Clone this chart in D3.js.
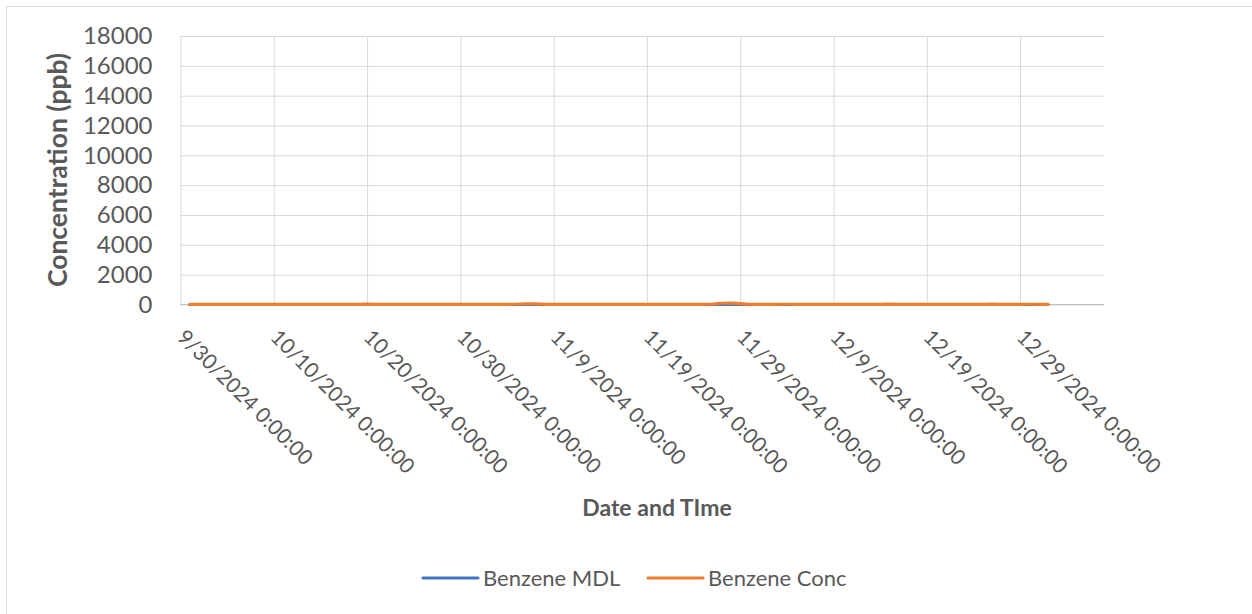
<!DOCTYPE html>
<html>
<head>
<meta charset="utf-8">
<script src="https://cdn.jsdelivr.net/npm/d3@7"></script>
<style>
  html, body { margin: 0; padding: 0; background: #ffffff; }
  svg { display: block; font-family: Lato, "Open Sans", sans-serif; }
</style>
</head>
<body>
<svg id="chart" width="1252" height="614"></svg>
<script>
// Daily benzene readings (ppb), one value per day at 0:00 starting on the first sample day
const firstSampleDay = "2024-10-01";
const benzeneMDL = [
  0.6, 0.6, 0.6, 0.6, 0.6, 0.6, 0.6, 0.6, 0.6, 0.6,
  0.6, 0.6, 0.6, 0.6, 0.6, 0.6, 0.6, 0.6, 0.6, 0.6,
  0.6, 0.6, 0.6, 0.6, 0.6, 0.6, 0.6, 0.6, 0.6, 0.6,
  0.6, 0.6, 0.6, 0.6, 0.6, 0.6, 0.6, 0.6, 0.6, 0.6,
  0.6, 0.6, 0.6, 0.6, 0.6, 0.6, 0.6, 0.6, 0.6, 0.6,
  0.6, 0.6, 0.6, 0.6, 0.6, 0.6, 0.6, 0.6, 0.6, 0.6,
  0.6, 0.6, 0.6, 0.6, 0.6, 0.6, 0.6, 0.6, 0.6, 0.6,
  0.6, 0.6, 0.6, 0.6, 0.6, 0.6, 0.6, 0.6, 0.6, 0.6,
  0.6, 0.6, 0.6, 0.6, 0.6, 0.6, 0.6, 0.6, 0.6, 0.6,
  0.6, 0.6, 0.6
];
const benzeneConc = [
  4, 6, 12, 3, 8, 15, 5, 2, 9, 11,
  7, 18, 4, 6, 10, 3, 14, 8, 5, 20,
  9, 4, 7, 12, 6, 3, 10, 16, 5, 8,
  12, 9, 6, 11, 14, 18, 45, 38, 11, 4,
  7, 13, 5, 9, 18, 6, 3, 10, 14, 8,
  12, 9, 15, 11, 8, 14, 20, 85, 95, 60,
  5, 11, 4, 8, 16, 12, 7, 5, 12, 9,
  6, 14, 4, 10, 7, 19, 5, 8, 12, 6,
  9, 4, 15, 7, 11, 5, 20, 8, 6, 13,
  18, 10, 7
];
const seriesNames = ["Benzene MDL", "Benzene Conc"];
const seriesColors = ["#4472C4", "#ED7D31"];
const yTicks = [0, 2000, 4000, 6000, 8000, 10000, 12000, 14000, 16000, 18000];
const axisStart = "2024-09-30";
const axisEnd = "2025-01-07";
const tickStepDays = 10;

const parse = d3.timeParse("%Y-%m-%d");
const tickFmt = d3.timeFormat("%-m/%-d/%Y 0:00:00");

const svg = d3.select("#chart");
const W = 1252, H = 614;
const plot = { left: 180.5, right: 1104, top: 36, bottom: 304.5 };

// chart frame
svg.append("rect")
  .attr("x", 6.5).attr("y", 6.5)
  .attr("width", W + 20).attr("height", H + 20)
  .attr("fill", "#ffffff").attr("stroke", "#d9d9d9").attr("stroke-width", 1);

const x = d3.scaleTime()
  .domain([parse(axisStart), parse(axisEnd)])
  .range([plot.left, plot.right]);
const y = d3.scaleLinear().domain([0, 18000]).range([plot.bottom, plot.top]);

const xTicks = d3.timeDay.range(parse(axisStart), parse("2025-01-01"))
  .filter((d, i) => i % tickStepDays === 0);

// horizontal grid + y labels
svg.append("g")
  .attr("transform", `translate(${plot.left},0)`)
  .call(d3.axisLeft(y).tickValues(yTicks).tickSize(-(plot.right - plot.left)).tickPadding(28).tickFormat(d3.format("d")))
  .call(g => g.select(".domain").remove())
  .call(g => g.selectAll(".tick line").attr("stroke", "#d9d9d9").attr("stroke-width", 1))
  .call(g => g.selectAll(".tick text").attr("fill", "#595959").attr("font-size", 24).attr("font-family", "Lato, sans-serif"));

// vertical grid + rotated date labels
const xAxis = svg.append("g")
  .attr("transform", `translate(0,${plot.bottom})`)
  .call(d3.axisBottom(x).tickValues(xTicks).tickSize(-(plot.bottom - plot.top)).tickFormat(tickFmt))
  .call(g => g.select(".domain").remove())
  .call(g => g.selectAll(".tick line").attr("stroke", "#d9d9d9").attr("stroke-width", 1));
xAxis.selectAll(".tick text")
  .attr("fill", "#595959").attr("font-size", 21).attr("font-family", "Lato, sans-serif")
  .attr("text-anchor", "start")
  .attr("y", 0).attr("dy", 0)
  .attr("transform", "translate(-5,34) rotate(45)");

// category axis line
svg.append("line")
  .attr("x1", plot.left).attr("x2", plot.right)
  .attr("y1", plot.bottom).attr("y2", plot.bottom)
  .attr("stroke", "#bfbfbf").attr("stroke-width", 1.2);

// series lines
const day0 = parse(firstSampleDay);
const line = d3.line()
  .x((d, i) => x(d3.timeDay.offset(day0, i)))
  .y(d => y(d));
[benzeneMDL, benzeneConc].forEach((vals, k) => {
  svg.append("path")
    .datum(vals)
    .attr("d", line)
    .attr("fill", "none")
    .attr("stroke", seriesColors[k])
    .attr("stroke-width", 3.2)
    .attr("stroke-linejoin", "round")
    .attr("stroke-linecap", "round");
});

// axis titles
svg.append("text")
  .attr("x", 657).attr("y", 516)
  .attr("text-anchor", "middle")
  .attr("font-size", 23).attr("font-weight", 700).attr("fill", "#595959")
  .text("Date and TIme");
svg.append("text")
  .attr("transform", "translate(67,170) rotate(-90)")
  .attr("text-anchor", "middle")
  .attr("font-size", 26.5).attr("font-weight", 700).attr("fill", "#595959")
  .text("Concentration (ppb)");

// legend
const legendX = [423, 648];
seriesNames.forEach((name, k) => {
  const g = svg.append("g").attr("transform", `translate(${legendX[k]},578)`);
  g.append("line")
    .attr("x1", 0).attr("x2", 55).attr("y1", 0).attr("y2", 0)
    .attr("stroke", seriesColors[k]).attr("stroke-width", 3.2).attr("stroke-linecap", "round");
  g.append("text")
    .attr("x", 60).attr("y", 0).attr("dy", "0.35em")
    .attr("font-size", 22).attr("fill", "#595959")
    .text(name);
});
</script>
</body>
</html>
